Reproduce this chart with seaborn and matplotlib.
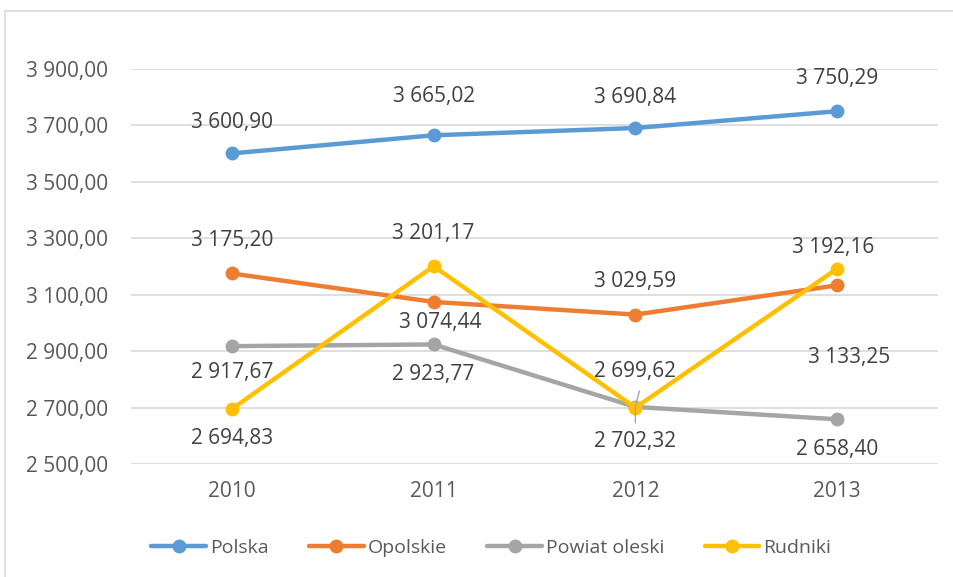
import pandas as pd
import seaborn as sns
import matplotlib.pyplot as plt
from matplotlib.patches import Rectangle

# Data
years = [2010, 2011, 2012, 2013]
series_names = ["Polska", "Opolskie", "Powiat oleski", "Rudniki"]
polska = [3600.90, 3665.02, 3690.84, 3750.29]
opolskie = [3175.20, 3074.44, 3029.59, 3133.25]
powiat = [2917.67, 2923.77, 2702.32, 2658.40]
rudniki = [2694.83, 3201.17, 2699.62, 3192.16]
colors = ["#5B9BD5", "#ED7D31", "#A5A5A5", "#FFC000"]
y_ticks = [2500, 2700, 2900, 3100, 3300, 3500, 3700, 3900]

# label offsets in pixels (dx, dy), dy positive = down
offsets = {
    "Polska": [(0, -31), (0, -39), (0, -31), (0, -33)],
    "Opolskie": [(0, -33), (7, 21), (0, -33), (12, 72)],
    "Powiat oleski": [(0, 26), (0, 30), (0, 35), (0, 30)],
    "Rudniki": [(0, 29), (0, -33), (0, -36), (-4, -21)],
}

df = pd.DataFrame({
    "Rok": years * 4,
    "Wartość": polska + opolskie + powiat + rudniki,
    "Seria": [n for n in series_names for _ in years],
})

def fmt(v):
    s = f"{v:,.2f}"
    return s.replace(",", " ").replace(".", ",")

sns.set_style("white")
plt.rcParams["font.family"] = ["Open Sans", "DejaVu Sans"]

fig = plt.figure(figsize=(9.54, 5.77), dpi=100)
ax = fig.add_axes([131 / 954, 1 - 464 / 577, (938 - 131) / 954, (464 - 69) / 577])

sns.lineplot(data=df, x="Rok", y="Wartość", hue="Seria", hue_order=series_names,
             palette=colors, marker="o", markersize=10, markeredgewidth=0,
             linewidth=3.2, ax=ax, zorder=3)

ax.set_xlim(2009.5, 2013.5)
ax.set_ylim(2500, 3900)
ax.set_yticks(y_ticks)
ax.set_yticklabels([fmt(v) for v in y_ticks])
ax.set_xticks(years)
ax.set_xticklabels([str(y) for y in years])
ax.grid(axis="y", color="#D9D9D9", linewidth=1.2, zorder=0)
ax.grid(axis="x", visible=False)
for sp in ax.spines.values():
    sp.set_visible(False)
ax.tick_params(axis="both", length=0, labelsize=15, labelcolor="#595959")
ax.tick_params(axis="y", pad=16.5)
ax.tick_params(axis="x", pad=12)
ax.set_xlabel("")
ax.set_ylabel("")

# data labels
values = {"Polska": polska, "Opolskie": opolskie, "Powiat oleski": powiat, "Rudniki": rudniki}
for name in series_names:
    for yr, v, (dx, dy) in zip(years, values[name], offsets[name]):
        ax.annotate(fmt(v), xy=(yr, v), xytext=(dx * 0.72, -dy * 0.72),
                    textcoords="offset points", ha="center", va="center",
                    fontsize=15, color="#404040", zorder=5)

# leader line for the moved label at 2012 (runs through the point)
for lx, ly in [(0, -16), (4, 16)]:
    ax.annotate("", xy=(2012, powiat[2]), xytext=(lx * 0.72, ly * 0.72), textcoords="offset points",
                arrowprops=dict(arrowstyle="-", color="#A5A5A5", lw=1, shrinkA=0, shrinkB=0),
                zorder=6)

# legend
handles, labels = ax.get_legend_handles_labels()
ax.legend_.remove()
for h in handles:
    h.set_markersize(10)
    h.set_linewidth(3.2)
fig.legend(handles, labels, loc="center", bbox_to_anchor=(0.515, 1 - 548 / 577), ncol=4,
           frameon=False, fontsize=14, labelcolor="#595959", handlelength=2.8,
           handletextpad=0.2, columnspacing=2.1)

# chart frame
fig.patches.append(Rectangle((5 / 954, -0.05), 1.0, 1 - 11 / 577 + 0.05,
                             transform=fig.transFigure, fill=False,
                             edgecolor="#D9D9D9", linewidth=1.2))

fig.savefig("out.png", dpi=100)
